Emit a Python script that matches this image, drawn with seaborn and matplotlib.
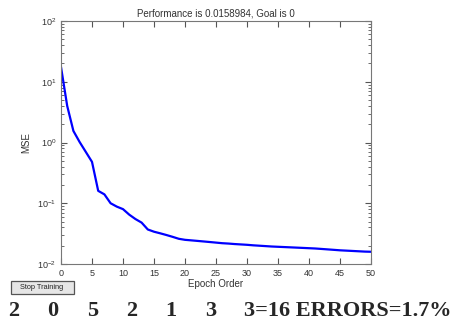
import numpy as np
import pandas as pd
import matplotlib
matplotlib.use("Agg")
import matplotlib.pyplot as plt
from matplotlib.patches import Rectangle
import seaborn as sns

# values (MSE per epoch)
epochs = list(range(0, 51))
mse = [17.5, 4.0, 1.55, 1.02, 0.7, 0.48, 0.16, 0.14, 0.10, 0.088,
       0.08, 0.065, 0.055, 0.048, 0.037, 0.034, 0.032, 0.030, 0.028, 0.026,
       0.025, 0.0245, 0.024, 0.0235, 0.023, 0.0225, 0.022, 0.0217, 0.0213, 0.021,
       0.0207, 0.0203, 0.020, 0.0197, 0.0194, 0.0192, 0.019, 0.0188, 0.0186, 0.0184,
       0.0182, 0.018, 0.0177, 0.0174, 0.0171, 0.0168, 0.0166, 0.0164, 0.0162, 0.016,
       0.0159]
title = "Performance is 0.0158984, Goal is 0"
digits = ["2", "0", "5", "2", "1", "3"]
summary = "3=16 ERRORS=1.7%"

df = pd.DataFrame({"epoch": epochs, "mse": mse})

sns.set_style("ticks")
plt.rcParams['font.family'] = ['Liberation Sans', 'DejaVu Sans']
plt.rcParams['mathtext.fontset'] = 'custom'
plt.rcParams['mathtext.rm'] = 'Liberation Sans'

W, H = 456, 325
fig = plt.figure(figsize=(W/100, H/100), dpi=100)
ax = fig.add_axes([61/W, 1-264/H, 310/W, 243/H])
sns.lineplot(data=df, x="epoch", y="mse", ax=ax, color="#0000ff", linewidth=1.6)
ax.set_yscale("log")
ax.set_ylim(1e-2, 1e2)
ax.set_xlim(0, 50)
ax.set_xticks(range(0, 51, 5))
ax.tick_params(which="both", direction="in", top=True, right=True,
               labelsize=6.5, colors="#555555", labelcolor="#333333")
ax.tick_params(which="major", length=4)
ax.tick_params(which="minor", length=2)
ax.tick_params(axis="x", which="minor", top=False, bottom=False)
for s in ax.spines.values():
    s.set_color("#777777")
    s.set_linewidth(0.8)
ax.set_xlabel("Epoch Order", fontsize=7, color="#333333", labelpad=1)
ax.set_ylabel("MSE", fontsize=7, color="#333333", labelpad=4)
ax.set_title(title, fontsize=7, color="#333333", pad=3)

# button
fig.patches.append(Rectangle((11/W, 1-294/H), 63/W, 13/H, transform=fig.transFigure,
                             fc="#e6e6e6", ec="#555555", lw=0.9))
fig.text(42/W, 1-287.5/H, "Stop Training", fontsize=5.3, ha="center", va="center",
         color="#222222")

# bottom line of text
digit_x = [14, 53, 93, 132, 171, 211]
for d, xp in zip(digits, digit_x):
    fig.text(xp/W, 1-311/H, d, fontsize=16, fontweight="bold",
             family="Liberation Serif", ha="center", va="center")
fig.text(244/W, 1-311/H, summary, fontsize=16, fontweight="bold",
         family="Liberation Serif", ha="left", va="center")

fig.savefig("out.png", dpi=100)
